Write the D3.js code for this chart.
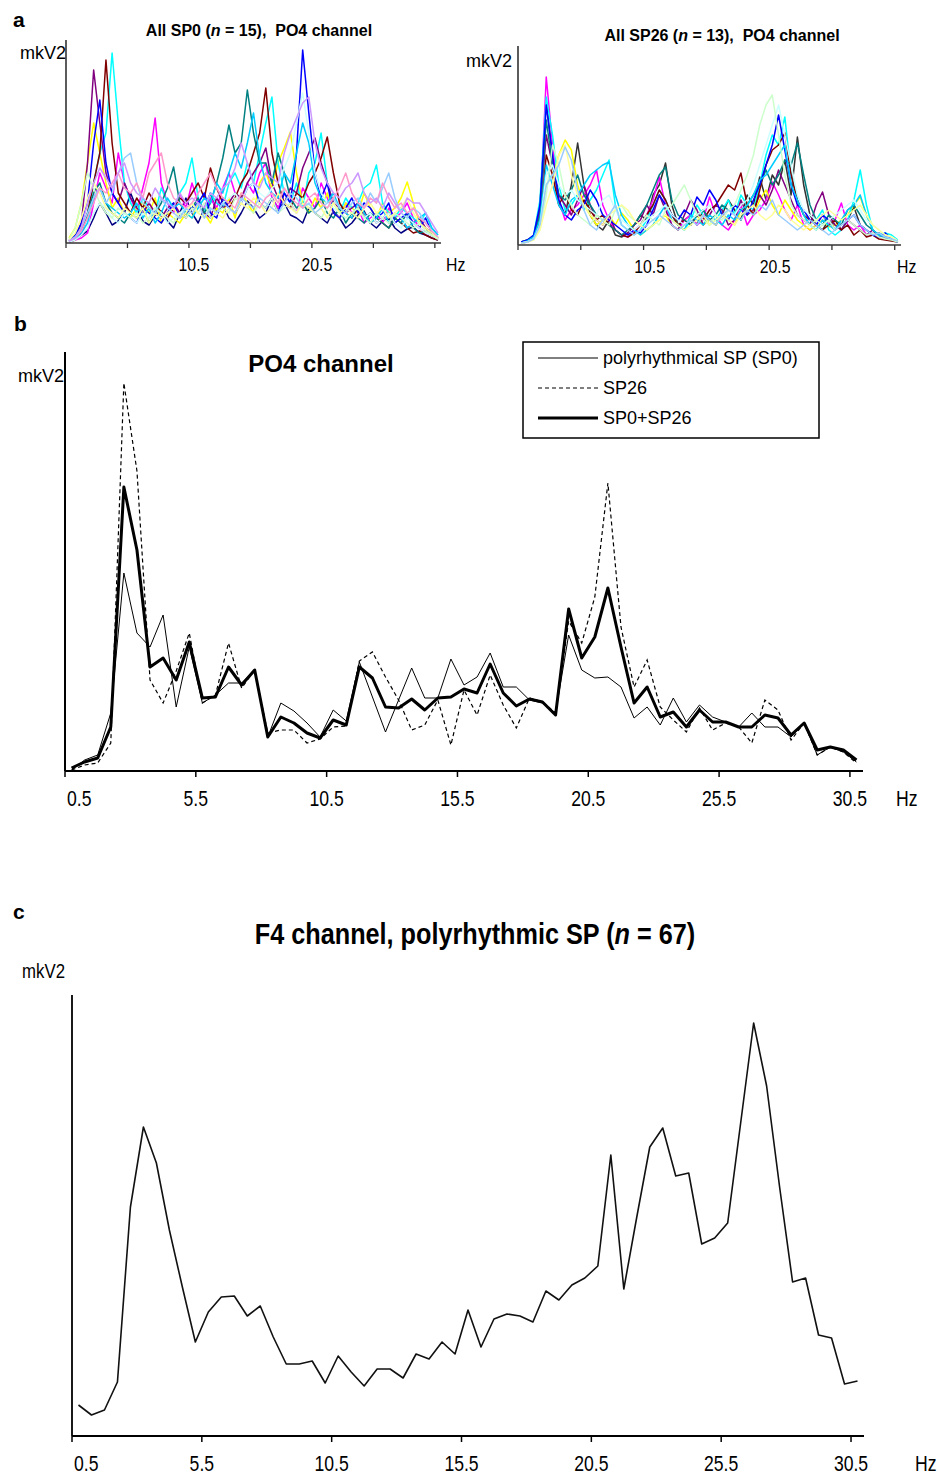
<!DOCTYPE html>
<html><head><meta charset="utf-8">
<script src="https://cdn.jsdelivr.net/npm/d3@7"></script>
<style>
body{margin:0;background:#fff}
svg{display:block}
</style>
</head><body>
<svg id="chart" width="939" height="1477"></svg>
<script>
// ---------- DATA ----------
const freqs = [0.5,1,1.5,2,2.5,3,3.5,4,4.5,5,5.5,6,6.5,7,7.5,8,8.5,9,9.5,10,10.5,11,11.5,12,12.5,13,13.5,14,14.5,15,15.5,16,16.5,17,17.5,18,18.5,19,19.5,20,20.5,21,21.5,22,22.5,23,23.5,24,24.5,25,25.5,26,26.5,27,27.5,28,28.5,29,29.5,30,30.5];
const tickIndex = [0,10,20,30,40,50,60];
const tickLabels = ["0.5","5.5","10.5","15.5","20.5","25.5","30.5"];
const tickLabelsA = ["","","10.5","","20.5","",""];

// panel a, left: all SP0 (n = 15), PO4 channel
const sp0All = [
 [2,4,8,12,25,40,30,18,22,30, 50,35,22,18,28,32,22,15,30,45, 30,20,35,50,30,38,25,20,30,42, 35,25,30,45,35,40,28,25,20,35, 30,25,20,32,25,15,20,28,32,20, 15,22,25,15,10,14,16,10,8,5, 3],
 [1,3,5,10,40,70,55,40,90,60, 45,30,55,80,125,60,40,30,50,35, 60,40,30,45,35,55,70,50,40,60, 50,70,80,45,35,50,40,30,55,45, 35,60,45,30,25,40,30,35,20,25, 30,20,35,25,30,40,25,15,10,8, 4],
 [5,15,40,80,120,90,60,35,45,30, 25,35,40,30,45,20,30,25,20,30, 25,40,30,20,35,30,45,25,50,40, 30,60,70,55,80,95,111,70,40,30, 45,35,50,30,25,40,35,30,50,35, 25,40,30,35,45,61,40,20,15,10, 5],
 [2,6,12,25,60,90,110,190,120,60, 40,30,45,35,30,55,40,35,50,60, 85,45,30,50,40,35,60,70,55,80, 60,90,120,146,80,50,40,60,35,70, 80,110,60,40,30,45,35,40,55,60, 78,40,30,25,35,30,25,20,30,15, 8],
 [2,5,20,80,173,120,70,50,40,60, 45,35,30,40,30,25,35,40,30,25, 35,40,30,25,45,35,40,50,45,60, 70,80,95,60,45,40,55,50,75,90, 105,80,60,40,35,30,35,40,25,30, 20,25,30,20,25,15,20,25,15,10, 5],
 [1,3,10,30,60,90,183,100,50,40, 30,45,35,50,40,30,25,35,45,40, 50,60,45,75,55,40,35,45,60,70, 90,110,155,90,60,40,35,50,45,60, 70,85,106,70,40,30,25,35,30,20, 25,20,15,25,20,15,10,12,8,5, 3],
 [2,6,15,30,50,60,40,30,25,20, 30,25,35,20,30,40,55,76,40,30, 35,45,30,40,60,85,118,90,100,153, 110,80,80,60,90,70,45,35,40,30, 35,45,30,25,35,20,30,25,20,30, 25,20,15,25,20,30,15,10,12,8, 4],
 [3,8,20,40,100,143,80,50,40,30, 25,20,35,30,25,20,30,40,25,30, 35,40,50,30,25,45,35,30,40,55, 60,40,35,45,30,50,40,90,193,130, 70,45,60,30,25,35,45,30,40,35, 25,30,40,20,25,30,20,15,25,10, 5],
 [1,4,10,20,45,55,40,35,30,25, 30,40,25,35,20,30,45,35,40,30, 25,35,45,40,60,50,70,90,75,100, 130,85,60,50,45,70,60,90,120,100, 60,45,40,50,35,30,25,40,30,20, 25,35,20,30,25,15,20,25,30,15, 8],
 [1,3,8,15,30,40,35,25,20,30, 25,20,30,25,35,30,20,25,30,35, 40,30,25,35,30,40,45,50,40,55, 60,50,45,55,60,75,90,120,150,110, 70,50,40,35,30,25,30,35,25,30, 20,25,30,20,15,25,20,15,10,8, 4],
 [4,15,40,70,55,40,30,25,35,30, 25,30,20,25,35,30,25,20,30,25, 35,30,40,25,30,35,30,45,40,35, 30,40,35,45,30,35,40,30,45,35, 30,25,35,40,30,25,30,35,25,20, 30,25,20,30,25,20,15,20,12,8, 4],
 [3,10,25,45,60,50,35,30,25,35, 30,25,35,20,30,25,30,35,25,30, 40,30,25,35,30,25,35,30,40,35, 45,40,30,35,50,40,35,30,40,35, 30,35,25,40,30,35,30,25,35,40, 30,35,25,30,35,45,30,20,15,10, 5],
 [2,6,15,30,45,55,40,50,70,85, 90,60,40,35,30,45,35,30,25,35, 30,40,25,35,30,40,35,30,45,40, 35,45,40,35,30,40,50,45,35,40, 30,35,40,45,35,30,40,45,35,50, 40,55,70,45,30,25,35,30,20,12, 6],
 [2,5,12,25,40,55,50,60,70,55, 50,60,45,70,80,90,60,45,40,35, 40,50,60,70,55,45,40,35,50,45, 40,35,45,50,40,55,45,40,35,45, 50,40,35,45,55,70,50,40,35,45, 40,60,45,35,40,30,35,25,20,12, 6],
 [2,5,15,40,60,75,65,55,70,80, 60,50,45,40,55,45,40,35,50,40, 45,40,35,50,45,55,60,75,100,80, 60,55,70,65,60,90,110,125,140,146, 100,75,60,50,45,55,60,70,50,40, 45,35,50,40,30,45,40,40,30,20, 10]
];
const sp0Colors = ["#000080","#FF00FF","#FFFF00","#00FFFF","#800080","#800000","#008080","#0000FF","#00CCFF","#CCFFFF","#CCFFCC","#FFFF99","#99CCFF","#FF99CC","#CC99FF"];

// panel a, right: all SP26 (n = 13), PO4 channel
const sp26All = [
 [3,5,8,40,142,90,40,30,60,102, 60,30,20,15,25,10,8,12,20,30, 25,50,60,82,40,20,25,30,20,35, 25,20,30,45,35,25,50,40,68,45, 70,60,85,50,108,60,30,20,15,25, 20,15,25,38,20,15,10,12,8,6, 4],
 [2,4,8,30,168,100,45,25,35,40, 50,60,75,40,25,15,10,8,15,20, 30,45,68,40,20,15,25,30,20,25, 48,30,20,15,25,40,20,30,35,45, 63,50,35,25,40,20,15,20,30,20, 25,42,20,15,20,10,12,8,10,6, 4],
 [2,3,6,25,60,70,90,105,95,60, 40,30,20,25,30,20,32,25,15,10, 15,20,25,30,20,15,20,25,30,20, 25,20,30,25,20,35,40,30,45,55, 40,30,45,35,25,20,15,20,25,18, 20,25,30,40,48,30,15,10,8,6, 4],
 [3,4,10,45,148,110,60,35,40,50, 35,45,55,70,85,40,20,15,10,15, 25,40,55,45,30,20,15,25,40,30, 20,25,35,45,30,50,40,35,60,90, 110,100,128,70,45,30,20,25,35,15, 10,15,25,45,75,40,15,10,12,10, 5],
 [2,3,7,35,110,80,50,40,30,45, 60,40,25,20,30,15,10,12,20,25, 40,30,50,35,20,15,30,45,35,20, 30,40,35,20,25,45,30,35,50,40, 55,75,60,45,30,25,20,40,53,30, 20,15,25,20,15,10,15,8,6,5, 3],
 [2,4,6,20,90,70,40,52,35,30, 45,35,25,30,20,15,10,8,12,20, 30,40,55,45,30,20,25,20,30,25, 35,40,50,60,55,72,40,30,55,80, 95,100,112,70,45,30,25,20,15,20, 25,15,20,10,15,8,10,6,5,4, 3],
 [3,5,9,30,125,80,50,45,55,70, 50,40,30,25,20,15,10,15,20,30, 40,55,70,78,45,30,25,20,30,35, 25,30,40,35,30,25,40,50,60,75, 60,70,85,80,102,70,40,25,20,30, 25,20,35,40,30,20,15,10,8,6, 4],
 [3,5,10,40,140,90,45,30,25,35, 40,55,45,30,25,20,15,10,15,12, 20,35,50,40,30,25,35,30,48,40, 55,45,30,25,40,35,30,45,60,80, 100,130,95,60,40,35,25,20,30,25, 15,20,25,30,20,15,10,8,12,6, 3],
 [2,4,8,25,80,60,40,30,45,50, 60,70,75,80,83,50,30,20,15,10, 15,20,30,40,25,20,15,30,25,20, 30,25,20,30,25,35,40,50,65,70, 80,90,100,60,45,30,20,15,25,20, 15,25,35,40,50,30,15,10,8,6, 3],
 [2,3,6,20,70,80,60,50,55,45, 40,35,30,45,50,35,25,20,15,20, 25,30,35,40,30,25,20,25,30,35, 40,30,25,35,30,40,45,60,80,100, 120,140,110,80,50,35,30,25,20,25, 30,35,40,45,35,25,20,15,10,8, 4],
 [2,3,6,15,50,100,80,50,40,30, 25,20,30,25,20,35,40,30,25,20, 30,25,20,35,40,50,60,45,30,25, 20,30,25,35,40,55,70,90,120,140, 150,110,70,40,30,25,20,15,20,25, 15,20,25,20,15,10,12,8,6,5, 3],
 [2,3,5,15,40,60,90,100,70,50, 40,30,25,20,30,35,40,35,25,20, 15,20,25,30,25,20,15,20,25,30, 20,25,30,25,20,30,35,40,30,25, 30,40,35,25,20,15,20,25,30,35, 30,25,30,35,40,30,20,15,10,8, 4],
 [2,3,6,20,60,70,80,98,85,55, 35,20,15,25,30,40,20,15,10,15, 20,25,30,25,20,15,20,25,20,30, 25,20,30,35,30,25,35,30,40,35, 45,30,25,20,15,20,25,20,15,10, 15,20,25,30,20,15,10,12,8,6, 4]
];
const sp26Colors = ["#333333","#FF00FF","#FFFF00","#00FFFF","#800080","#800000","#008080","#0000FF","#00CCFF","#CCFFFF","#CCFFCC","#FFFF99","#99CCFF"];

// panel b: PO4 channel averages
const sp0 = [1,11,16,58,198,138,124,156,64,124, 68,76,88,88,101,34,68,60,48,34, 61,50,109,74,39,71,103,73,73,112, 86,94,118,84,84,71,68,58,136,101, 93,94,84,53,64,46,73,49,66,54, 49,44,58,44,44,34,48,16,24,19, 9];
const sp26 = [1,6,8,28,388,300,91,68,100,138, 68,76,128,83,101,38,41,41,28,32, 44,45,110,119,94,71,41,46,71,26, 81,56,96,66,43,73,69,58,150,128, 174,288,144,84,111,64,51,39,63,41, 48,44,28,71,61,31,48,16,24,19, 8];
const sp0sp26 = [3,9,13,44,284,221,104,113,91,129, 73,74,104,86,101,34,54,48,38,33, 51,46,104,93,64,63,72,61,73,74, 82,78,107,78,65,72,69,56,162,113, 134,183,124,68,84,54,59,44,61,49, 49,44,44,56,53,36,48,21,24,21, 11];
const legendLabels = ["polyrhythmical SP (SP0)","SP26","SP0+SP26"];

// panel c: F4 channel, polyrhythmic SP (n = 67)
const f4 = [31,21,26,54,229,309,273,206,149,94, 124,139,140,120,130,99,72,72,75,53, 80,64,50,67,67,58,82,77,94,82, 126,89,117,122,120,114,145,136,151,158, 170,281,147,219,289,308,260,263,192,198, 213,313,413,350,249,154,158,101,98,52, 55];

// ---------- DRAWING ----------
const FONT = '"Liberation Sans", Arial, sans-serif';
const svg = d3.select("#chart");

// text helper; sx < 1 gives the condensed look of the original
function txt(parent, x, y, str, o) {
  const g = parent.append("g").attr("transform", `translate(${x},${y}) scale(${o.sx || 1},1)`);
  const t = g.append("text").attr("x", 0).attr("y", 0)
    .attr("text-anchor", o.anchor || "start")
    .style("font-family", FONT).style("font-size", o.size + "px")
    .style("font-weight", o.bold ? "bold" : "normal").style("white-space", "pre")
    .attr("fill", "#000");
  if (Array.isArray(str)) str.forEach(p => t.append("tspan").style("font-style", p.i ? "italic" : "normal").text(p.t));
  else t.text(str);
  return t;
}

function makePanel(cfg) {
  const x = d3.scalePoint().domain(freqs).range([cfg.x0, cfg.x1]).padding(0.5);
  const y = d3.scaleLinear().domain([0, cfg.yMax]).range([cfg.yBase, cfg.yTop]);
  const g = svg.append("g");
  const line = d3.line().x((d, i) => x(freqs[i])).y(d => y(d));
  return {x, y, g, line, cfg};
}

function drawAxes(p, labels, o) {
  const {x, g, cfg} = p;
  const step = x.step();
  g.append("line").attr("x1", cfg.x0).attr("x2", cfg.x0).attr("y1", cfg.yTop).attr("y2", cfg.yBase)
    .attr("stroke", o.axisColor).attr("stroke-width", o.axisWidth);
  g.append("line").attr("x1", cfg.x0).attr("x2", cfg.x1).attr("y1", cfg.yBase).attr("y2", cfg.yBase)
    .attr("stroke", o.axisColor).attr("stroke-width", o.axisWidth);
  tickIndex.forEach((k, j) => {
    const tx = x(freqs[k]) - step / 2;
    g.append("line").attr("x1", tx).attr("x2", tx).attr("y1", cfg.yBase).attr("y2", cfg.yBase + o.tickLen)
      .attr("stroke", o.axisColor).attr("stroke-width", o.tickWidth);
    if (labels[j]) {
      txt(g, tx + (j === 0 ? o.firstShift : o.labelShift), o.labelY, labels[j],
        {size: o.fontSize, sx: o.sx, anchor: j === 0 ? "start" : "middle"});
    }
  });
  txt(g, o.hzX, o.labelY, "Hz", {size: o.fontSize, sx: o.sx});
  txt(g, o.mkX, o.mkY, "mkV2", {size: o.mkSize, sx: o.mkSx || 1, anchor: "end"});
}

// panel letters
txt(svg, 13, 27, "a", {size: 21, bold: true});
txt(svg, 14, 331, "b", {size: 21, bold: true});
txt(svg, 13, 919, "c", {size: 21, bold: true});

// ----- panel a left -----
const aL = makePanel({x0: 66, x1: 441, yBase: 243, yTop: 40, yMax: 203});
sp0All.forEach((s, k) => aL.g.append("path").datum(s).attr("d", aL.line).attr("fill", "none")
  .attr("stroke", sp0Colors[k]).attr("stroke-width", 1.5).attr("stroke-linejoin", "round"));
drawAxes(aL, tickLabelsA, {axisColor: "#333", axisWidth: 1.6, tickLen: 5, tickWidth: 1.3, labelY: 271, labelShift: 5, firstShift: 0,
  fontSize: 18, sx: 0.88, hzX: 446, mkX: 66, mkY: 59, mkSize: 19, mkSx: 0.95});
txt(svg, 259, 36, [{t: "All SP0 ("}, {t: "n", i: true}, {t: " = 15),  PO4 channel"}], {size: 16, bold: true, anchor: "middle"});

// ----- panel a right -----
const aR = makePanel({x0: 518, x1: 901, yBase: 245, yTop: 46, yMax: 199});
sp26All.forEach((s, k) => aR.g.append("path").datum(s).attr("d", aR.line).attr("fill", "none")
  .attr("stroke", sp26Colors[k]).attr("stroke-width", 1.5).attr("stroke-linejoin", "round"));
drawAxes(aR, tickLabelsA, {axisColor: "#333", axisWidth: 1.6, tickLen: 5, tickWidth: 1.3, labelY: 273, labelShift: 6, firstShift: 0,
  fontSize: 18, sx: 0.88, hzX: 897, mkX: 512, mkY: 67, mkSize: 19, mkSx: 0.95});
txt(svg, 722, 41, [{t: "All SP26 ("}, {t: "n", i: true}, {t: " = 13),  PO4 channel"}], {size: 16, bold: true, anchor: "middle"});

// ----- panel b -----
const pb = makePanel({x0: 65, x1: 863, yBase: 771, yTop: 352, yMax: 419});
pb.g.append("path").datum(sp26).attr("d", pb.line).attr("fill", "none").attr("stroke", "#000")
  .attr("stroke-width", 1.2).attr("stroke-dasharray", "4,3");
pb.g.append("path").datum(sp0).attr("d", pb.line).attr("fill", "none").attr("stroke", "#000")
  .attr("stroke-width", 1);
pb.g.append("path").datum(sp0sp26).attr("d", pb.line).attr("fill", "none").attr("stroke", "#000")
  .attr("stroke-width", 3).attr("stroke-linejoin", "round");
drawAxes(pb, tickLabels, {axisColor: "#000", axisWidth: 2, tickLen: 6, tickWidth: 1.5, labelY: 806, labelShift: 0, firstShift: 2,
  fontSize: 22, sx: 0.8, hzX: 896, mkX: 64, mkY: 382, mkSize: 19, mkSx: 0.95});
txt(svg, 321, 372, "PO4 channel", {size: 24, bold: true, anchor: "middle"});

// legend
const lg = svg.append("g");
lg.append("rect").attr("x", 523).attr("y", 342).attr("width", 296).attr("height", 96)
  .attr("fill", "#fff").attr("stroke", "#000").attr("stroke-width", 1.5);
const legStyles = [{w: 1, dash: null}, {w: 1.2, dash: "4,3"}, {w: 3, dash: null}];
legendLabels.forEach((lab, i) => {
  const cy = 358 + i * 30;
  lg.append("line").attr("x1", 538).attr("x2", 598).attr("y1", cy).attr("y2", cy).attr("stroke", "#000")
    .attr("stroke-width", legStyles[i].w).attr("stroke-dasharray", legStyles[i].dash);
  txt(lg, 603, cy + 6, lab, {size: 18});
});

// ----- panel c -----
const pc = makePanel({x0: 72, x1: 864, yBase: 1436, yTop: 995, yMax: 441});
pc.g.append("path").datum(f4).attr("d", pc.line).attr("fill", "none").attr("stroke", "#111")
  .attr("stroke-width", 1.6).attr("stroke-linejoin", "round");
drawAxes(pc, tickLabels, {axisColor: "#000", axisWidth: 1.8, tickLen: 6, tickWidth: 1.5, labelY: 1471, labelShift: 0, firstShift: 2,
  fontSize: 22, sx: 0.8, hzX: 915, mkX: 65, mkY: 978, mkSize: 21, mkSx: 0.8});
txt(svg, 475, 944, [{t: "F4 channel, polyrhythmic SP ("}, {t: "n", i: true}, {t: " = 67)"}], {size: 29, bold: true, anchor: "middle", sx: 0.87});
</script>
</body></html>
